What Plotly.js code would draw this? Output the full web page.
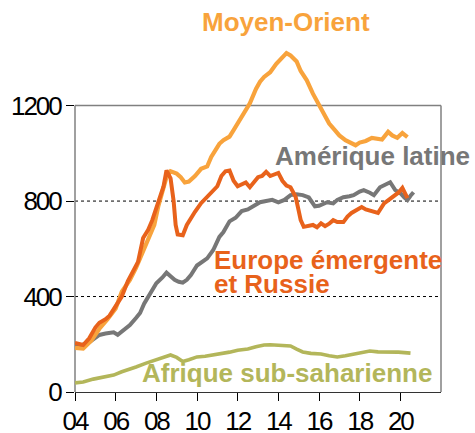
<!DOCTYPE html>
<html>
<head>
<meta charset="utf-8">
<script src="https://cdn.plot.ly/plotly-3.0.1.min.js"></script>
<style>
html,body{margin:0;padding:0;background:#fff;}
#chart{width:475px;height:433px;}
.xtick text, .ytick text{letter-spacing:-2px;}
</style>
</head>
<body>
<div id="chart"></div>
<script>
// Years (decimal) and values
const moYears = [2004.0,2004.4,2004.8,2005.2,2005.6,2006.0,2006.3,2006.7,2007.0,2007.3,2007.6,2007.9,2008.1,2008.3,2008.5,2008.7,2009.0,2009.2,2009.4,2009.6,2009.9,2010.2,2010.5,2010.7,2010.9,2011.1,2011.3,2011.6,2011.8,2012.1,2012.4,2012.6,2012.9,2013.1,2013.3,2013.6,2013.9,2014.1,2014.4,2014.6,2014.9,2015.1,2015.4,2015.7,2016.0,2016.2,2016.5,2016.8,2017.0,2017.3,2017.6,2017.8,2018.0,2018.3,2018.6,2018.9,2019.1,2019.4,2019.6,2019.85,2020.1,2020.35];
const moVals  = [185,182,215,265,305,350,420,470,520,580,630,700,780,840,900,925,915,900,878,882,905,935,945,985,1010,1040,1055,1070,1097,1140,1185,1210,1270,1300,1320,1340,1375,1395,1420,1410,1385,1345,1306,1250,1200,1170,1125,1095,1075,1055,1040,1034,1045,1052,1065,1060,1058,1090,1075,1065,1085,1068];

const euYears = [2004.0,2004.2,2004.4,2004.7,2005.0,2005.2,2005.5,2005.7,2006.0,2006.3,2006.6,2006.9,2007.1,2007.35,2007.6,2007.8,2008.0,2008.2,2008.35,2008.5,2008.7,2008.85,2008.95,2009.05,2009.3,2009.5,2009.7,2009.9,2010.2,2010.4,2010.65,2010.85,2011.0,2011.2,2011.4,2011.6,2011.8,2012.0,2012.2,2012.4,2012.6,2012.8,2013.0,2013.2,2013.4,2013.6,2013.8,2014.0,2014.2,2014.4,2014.6,2014.85,2015.0,2015.1,2015.25,2015.5,2015.7,2015.9,2016.1,2016.3,2016.5,2016.7,2016.9,2017.2,2017.4,2017.6,2017.9,2018.1,2018.3,2018.5,2018.7,2018.9,2019.2,2019.45,2019.65,2019.9,2020.1,2020.25,2020.35];
const euVals  = [205,200,197,225,270,290,305,320,360,400,465,510,545,645,680,720,775,825,860,929,895,800,700,660,657,700,730,755,791,810,835,850,862,905,925,928,885,862,870,878,858,880,900,905,922,905,910,918,885,865,858,818,760,720,692,698,700,690,707,695,705,720,712,712,735,750,768,775,765,760,752,750,790,805,816,835,855,830,812];

const laYears = [2004.0,2004.3,2004.7,2005.0,2005.2,2005.5,2005.9,2006.1,2006.4,2006.7,2007.0,2007.2,2007.4,2007.6,2007.8,2008.0,2008.3,2008.5,2008.7,2008.9,2009.1,2009.3,2009.5,2009.7,2010.0,2010.3,2010.5,2010.8,2011.1,2011.3,2011.6,2011.9,2012.2,2012.5,2012.8,2013.1,2013.4,2013.7,2014.0,2014.3,2014.6,2014.9,2015.2,2015.5,2015.8,2016.0,2016.4,2016.7,2016.9,2017.2,2017.5,2017.7,2018.0,2018.2,2018.5,2018.7,2019.0,2019.3,2019.5,2019.75,2020.0,2020.2,2020.35,2020.5,2020.65];
const laVals  = [197,195,209,230,239,245,250,240,258,280,310,331,370,398,425,456,480,500,485,470,462,458,470,490,530,548,560,595,650,670,715,730,758,765,780,795,800,805,795,805,825,828,825,815,778,780,795,790,805,816,820,825,840,846,835,825,858,870,879,846,833,815,804,822,837];

const afYears = [2004.0,2004.4,2004.9,2005.4,2005.9,2006.3,2006.6,2007.0,2007.5,2007.9,2008.2,2008.5,2008.7,2009.0,2009.3,2009.6,2010.0,2010.4,2010.8,2011.2,2011.6,2012.0,2012.5,2012.9,2013.3,2013.6,2013.95,2014.3,2014.6,2014.9,2015.2,2015.6,2016.1,2016.5,2016.9,2017.3,2017.7,2018.1,2018.5,2018.9,2019.4,2019.9,2020.5];
const afVals  = [38,42,54,62,71,85,92,105,121,132,142,152,155,145,128,135,147,150,155,162,167,175,180,190,197,198,197,195,193,180,168,162,159,152,147,152,159,165,172,168,168,167,163];

const seriesNames = ['Afrique sub-saharienne','Amérique latine','Moyen-Orient','Europe émergente et Russie'];
const xTickVals = [2004,2006,2008,2010,2012,2014,2016,2018,2020];
const xTickText = ['04','06','08','10','12','14','16','18','20'];
const yTickVals = [0,400,800,1200];
const yTickText = ['0','400','800','1200'];

const C_MO = '#F8A33C', C_EU = '#E8621B', C_LA = '#777777', C_AF = '#B3B65A';
const tickFam = 'Liberation Sans, Arial, sans-serif';
const bold = 'Liberation Sans, Arial, sans-serif';

const traces = [
  {x: afYears, y: afVals, name: seriesNames[0], mode: 'lines', line: {color: C_AF, width: 3.6}},
  {x: laYears, y: laVals, name: seriesNames[1], mode: 'lines', line: {color: C_LA, width: 4}},
  {x: moYears, y: moVals, name: seriesNames[2], mode: 'lines', line: {color: C_MO, width: 4.2}},
  {x: euYears, y: euVals, name: seriesNames[3], mode: 'lines', line: {color: C_EU, width: 4}}
];

const ann = (text, x, y, color) => ({text: '<b>' + text + '</b>', x: x, y: y, xref: 'paper', yref: 'paper', xanchor: 'left', yanchor: 'middle', showarrow: false, font: {family: bold, size: 26, color: color}});

const layout = {
  width: 475, height: 433,
  margin: {l: 75, r: 34, t: 34, b: 41},
  paper_bgcolor: '#fff', plot_bgcolor: '#fff',
  showlegend: false,
  xaxis: {range: [2004, 2022], tickvals: xTickVals, ticktext: xTickText, ticks: 'outside', ticklen: 8, tickwidth: 1, tickcolor: '#000',
          showline: true, linecolor: '#333', linewidth: 1, showgrid: false, zeroline: false, ticklabelstandoff: -2,
          tickfont: {family: tickFam, size: 26, color: '#000'}},
  yaxis: {range: [0, 1500], tickvals: yTickVals, ticktext: yTickText, ticks: 'outside', ticklen: 8, tickwidth: 1, tickcolor: '#000',
          showline: false, showgrid: false, zeroline: false,
          tickfont: {family: tickFam, size: 26, color: '#000'}},
  shapes: [
    {type: 'line', xref: 'paper', yref: 'y', x0: 0, x1: 1, y0: 400, y1: 400, layer: 'below', line: {color: '#000', width: 1, dash: 'dot'}},
    {type: 'line', xref: 'paper', yref: 'y', x0: 0, x1: 1, y0: 800, y1: 800, layer: 'below', line: {color: '#000', width: 1, dash: 'dot'}},
    {type: 'line', xref: 'paper', yref: 'y', x0: 0, x1: 1, y0: 1200, y1: 1200, layer: 'below', line: {color: '#808080', width: 1.5}},
    {type: 'line', xref: 'paper', yref: 'y', x0: 0, x1: 0, y0: 0, y1: 1200, layer: 'below', line: {color: '#808080', width: 1.5}},
    {type: 'line', xref: 'paper', yref: 'y', x0: 1, x1: 1, y0: 0, y1: 1200, layer: 'below', line: {color: '#808080', width: 1.5}}
  ],
  annotations: [
    ann('Moyen-Orient', 0.3415, 1.0335, C_MO),
    ann('Amérique latine', 0.541, 0.659, C_LA),
    ann('Europe émergente', 0.374, 0.3687, C_EU),
    ann('et Russie', 0.374, 0.3017, C_EU),
    ann('Afrique sub-saharienne', 0.1776, 0.053, C_AF)
  ]
};

Plotly.newPlot('chart', traces, layout, {staticPlot: true, displayModeBar: false});
</script>
</body>
</html>
